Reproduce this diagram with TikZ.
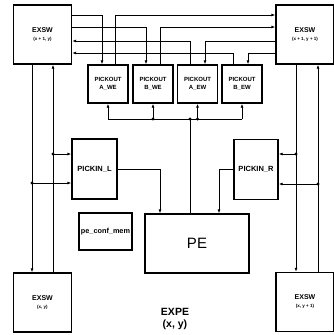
\documentclass[tikz,border=0pt]{standalone}
\usepackage{fontspec}
\setmainfont{Liberation Sans}
\usetikzlibrary{arrows.meta, calc}

\begin{document}
\begin{tikzpicture}[x=1pt, y=-1pt, >={Latex[length=4pt, width=3pt]}, line width=0.8pt,
  blk/.style={draw, line width=1.3pt, inner sep=0pt},
  exsw/.style={blk, minimum width=58pt, minimum height=59pt, align=center,
    font=\fontsize{7}{7}\selectfont\bfseries},
  pickout/.style={blk, minimum width=40pt, minimum height=38pt, align=center,
    font=\fontsize{6}{7.5}\selectfont\bfseries},
  pickin/.style={blk, minimum width=45pt, minimum height=60pt,
    font=\fontsize{7.5}{9}\selectfont\bfseries}]
  \useasboundingbox (0,0) rectangle (334,335);

  % ===== EXSW corners =====
  \node[exsw] (tl) at (42.5,34.5) {EXSW\\[1pt]{\fontsize{4.5}{5}\selectfont (x + 1, y)}};
  \node[exsw] (tr) at (305,34.5) {EXSW\\[1pt]{\fontsize{4.5}{5}\selectfont (x + 1, y + 1)}};
  \node[exsw] (bl) at (42.5,302.5) {EXSW\\[1pt]{\fontsize{4.5}{5}\selectfont (x, y)}};
  \node[exsw] (br) at (305,302) {EXSW\\[1pt]{\fontsize{4.5}{5}\selectfont (x, y + 1)}};

  % ===== PICKOUT =====
  \node[pickout] (awe) at (108,84) {PICKOUT\\A\_WE};
  \node[pickout] (bwe) at (153,84) {PICKOUT\\B\_WE};
  \node[pickout] (aew) at (197.5,84) {PICKOUT\\A\_EW};
  \node[pickout] (bew) at (242,84) {PICKOUT\\B\_EW};

  % ===== PICKIN, PE =====
  \node[pickin] (pinl) at (94.5,169) {PICKIN\_L};
  \node[pickin, minimum width=44pt] (pinr) at (256,169.5) {PICKIN\_R};
  \node[blk, minimum width=104pt, minimum height=59pt, font=\fontsize{15}{15}\selectfont] (pe) at (197,243.5) {PE};
  \node[blk, minimum width=53pt, minimum height=37pt, font=\fontsize{7.3}{8}\selectfont\bfseries] (mem) at (105.5,231.5) {pe\_conf\_mem};
  \node[align=center, font=\fontsize{10.5}{12.5}\selectfont\bfseries] (expe) at (175,319) {EXPE\\(x, y)};

  % ===== Buses EXSW <-> PICKOUT =====
  \coordinate (l1) at (0,15);
  \coordinate (l2) at (0,27);
  \coordinate (l3) at (0,41);
  \coordinate (l4) at (0,53);
  \draw[->] (tl.east |- l1) -| ([xshift=-6pt]awe.north);
  \draw[->] ([xshift=7pt]awe.north) |- (tr.west |- l1);
  \draw[->] (tl.east |- l2) -| ([xshift=-7pt]bwe.north);
  \draw[->] ([xshift=7pt]bwe.north) |- (tr.west |- l2);
  \draw[->] (tr.west |- l3) -| ([xshift=7.5pt]aew.north);
  \draw[->] ([xshift=-7.5pt]aew.north) |- (tl.east |- l3);
  \draw[->] (tr.west |- l4) -| ([xshift=6pt]bew.north);
  \draw[->] ([xshift=-9pt]bew.north) |- (tl.east |- l4);

  % ===== PE -> PICKOUT =====
  \coordinate (bus) at (0,119);
  \coordinate (peout) at ([xshift=-7pt]pe.north);
  \draw (awe.south |- bus) -- (bew.south |- bus);
  \draw (peout) -- (peout |- bus);
  \draw[->] (awe.south |- bus) -- (awe.south);
  \draw[->] (bwe.south |- bus) -- (bwe.south);
  \draw[->] (aew.south |- bus) -- (aew.south);
  \draw[->] (bew.south |- bus) -- (bew.south);
  \fill (bwe.south |- bus) circle (1.7pt);
  \fill (peout |- bus) circle (1.7pt);
  \fill (aew.south |- bus) circle (1.7pt);

  % ===== PICKIN -> PE =====
  \draw[->] (pinl.east) -| ([xshift=-37pt]pe.north);
  \draw[->] (pinr.west) -| ([xshift=22pt]pe.north);

  % ===== Left column =====
  \coordinate (tlout) at ([xshift=-10.5pt]tl.south);
  \coordinate (tlin) at ([xshift=10.5pt]tl.south);
  \coordinate (blin) at ([xshift=-10.5pt]bl.north);
  \coordinate (blout) at ([xshift=10.5pt]bl.north);
  \coordinate (lin1) at ([yshift=15pt]pinl.west);
  \coordinate (lin2) at ([yshift=-14pt]pinl.west);
  \draw[->] (tlout) -- (blin);
  \draw[->] (blout) -- (tlin);
  \draw[->] (tlin |- lin1) -- (lin1);
  \draw[->] (tlout |- lin2) -- (lin2);
  \fill (tlin |- lin1) circle (1.7pt);
  \fill (tlout |- lin2) circle (1.7pt);

  % ===== Right column =====
  \coordinate (trout) at ([xshift=-9pt]tr.south);
  \coordinate (trin) at ([xshift=13pt]tr.south);
  \coordinate (brin) at ([xshift=-9pt]br.north);
  \coordinate (brout) at ([xshift=13pt]br.north);
  \coordinate (rin1) at ([yshift=15.5pt]pinr.east);
  \coordinate (rin2) at ([yshift=-14.5pt]pinr.east);
  \draw[->] (trout) -- (brin);
  \draw[->] (brout) -- (trin);
  \draw[->] (trout |- rin1) -- (rin1);
  \draw[->] (trin |- rin2) -- (rin2);
  \fill (trout |- rin1) circle (1.7pt);
  \fill (trin |- rin2) circle (1.7pt);
\end{tikzpicture}
\end{document}
